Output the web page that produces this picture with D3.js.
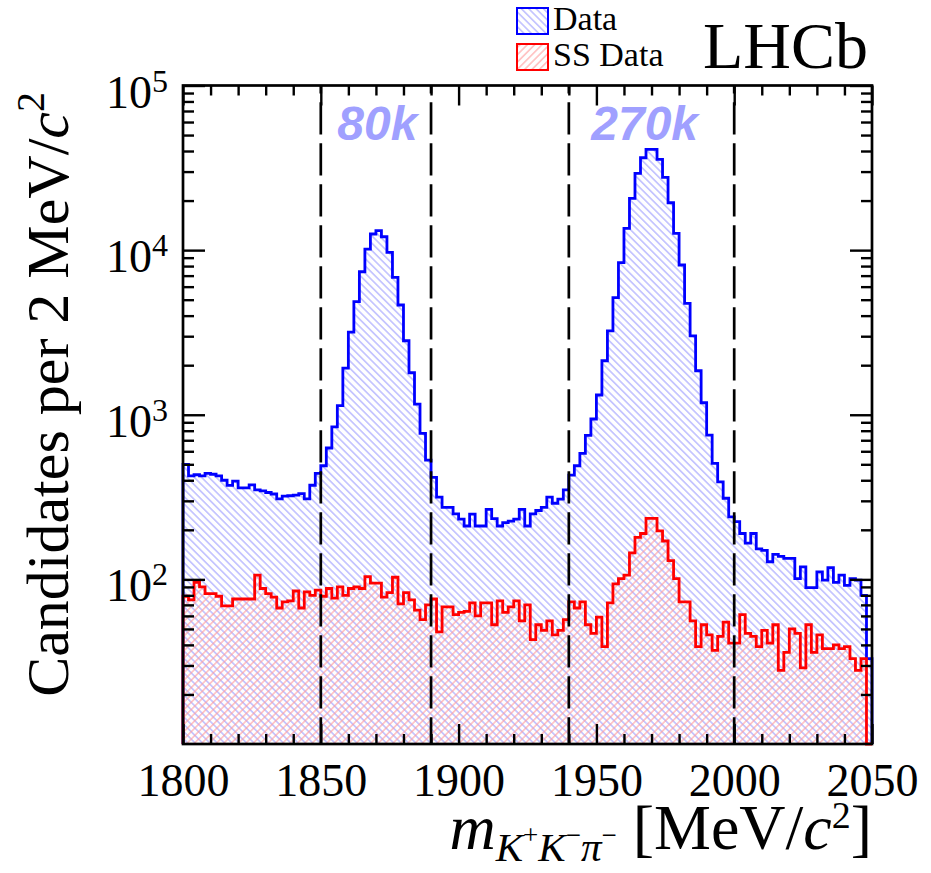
<!DOCTYPE html>
<html>
<head>
<meta charset="utf-8">
<script src="https://cdn.jsdelivr.net/npm/d3@7"></script>
<style>
  body { margin: 0; background: #fff; }
  svg { display: block; }
</style>
</head>
<body>
<div id="chart"></div>
<script>
// binning of the mass histogram, 2 MeV per bin from 1800
const binStart = 1800
const binWidth = 2

// Data (opposite sign), candidates per bin
const dataCounts = [
  500, 425, 432, 425, 440, 435, 425, 400, 372, 395,
  360, 360, 375, 350, 345, 337, 330, 308, 320, 322,
  325, 332, 308, 373, 440, 490, 628, 845, 1135, 1921,
  3180, 4860, 7390, 10150, 12530, 13120, 12060, 9700, 6840, 4640,
  2816, 1800, 1160, 771, 530, 417, 316, 274, 274, 250,
  232, 211, 249, 211, 211, 266, 234, 211, 221, 226,
  232, 266, 211, 250, 262, 274, 316, 290, 307, 350,
  430, 490, 582, 750, 942, 1318, 2128, 3236, 5140, 8400,
  13560, 20650, 29260, 36400, 40950, 40950, 35600, 27700, 19400, 12650,
  8120, 4750, 3010, 1850, 1183, 753, 507, 391, 311, 240,
  224, 190, 166, 190, 153, 150, 128, 142, 138, 134,
  134, 101, 119, 89, 89, 111, 99, 118, 96, 106,
  92, 101, 99, 80, 33
]

// same-sign data, candidates per bin
const ssCounts = [
  79, 75, 96, 90, 82, 82, 79, 69, 69, 76,
  76, 76, 76, 106, 88, 82, 78, 67, 73, 74,
  85, 67, 84, 80, 86, 79, 88, 77, 90, 80,
  88, 90, 88, 104, 95, 95, 78, 83, 103, 71,
  83, 75, 65, 57, 70, 76, 48, 68, 68, 61,
  63, 64, 72, 60, 72, 72, 53, 74, 63, 68,
  74, 56, 70, 43, 53, 49, 56, 46, 49, 57,
  73, 67, 73, 53, 47, 59, 39, 72, 94, 101,
  106, 145, 180, 190, 235, 235, 197, 171, 130, 101,
  73, 73, 56, 39, 53, 46, 37, 45, 55, 41,
  41, 61, 47, 45, 39, 49, 41, 53, 28, 36,
  50, 47, 29, 53, 36, 46, 38, 38, 40, 38,
  39, 33, 28, 33, 5
]

// signal window boundaries (dashed lines)
const cutLines = [1850, 1890, 1940, 2000]
// yields written over the two peaks
const yieldLabels = ["80k", "270k"]
const yieldLabelX = [1870.5, 1967.5]

const xMajorTicks = [1800, 1850, 1900, 1950, 2000, 2050]
const yMajorTicks = [1e2, 1e3, 1e4, 1e5]
const yExponents = ["2", "3", "4", "5"]

const legendLabels = ["Data", "SS Data"]

const W = 931, H = 873
const pLeft = 183, pRight = 872, pTop = 85.5, pBottom = 744

const svg = d3.select("#chart").append("svg")
  .attr("width", W).attr("height", H)

const x = d3.scaleLinear().domain([1800, 2050]).range([pLeft, pRight])
const y = d3.scaleLog().domain([10, 1e5]).range([pBottom, pTop]).clamp(true)

// hatch patterns like ROOT fill styles 3004/3005
const defs = svg.append("defs")
function hatch(id, angle, color) {
  const p = defs.append("pattern")
    .attr("id", id)
    .attr("patternUnits", "userSpaceOnUse")
    .attr("width", 5.2).attr("height", 10)
    .attr("patternTransform", "rotate(" + angle + ")")
  p.append("line")
    .attr("x1", 2.6).attr("y1", -1).attr("x2", 2.6).attr("y2", 11)
    .attr("stroke", color).attr("stroke-width", 1)
}
hatch("hatchBlue", -45, "#9a9aff")
hatch("hatchRed", 45, "#ff9a9a")

// histogram points: one per bin low edge, plus the last upper edge
function histPoints(counts) {
  const pts = counts.map((c, i) => [binStart + i * binWidth, c])
  pts.push([binStart + counts.length * binWidth, counts[counts.length - 1]])
  return pts
}

const area = d3.area()
  .curve(d3.curveStepAfter)
  .x(d => x(d[0]))
  .y0(pBottom)
  .y1(d => y(d[1]))

const outline = d3.line()
  .curve(d3.curveStepAfter)
  .x(d => x(d[0]))
  .y(d => y(d[1]))

function drawHist(counts, fill, color) {
  const pts = histPoints(counts)
  svg.append("path")
    .attr("d", area(pts))
    .attr("fill", fill)
  const withEnds = [[binStart, 1]].concat(pts, [[pts[pts.length - 1][0], 1]])
  svg.append("path")
    .attr("d", outline(withEnds))
    .attr("fill", "none")
    .attr("stroke", color)
    .attr("stroke-width", 2.8)
    .attr("stroke-linejoin", "miter")
}

drawHist(dataCounts, "url(#hatchBlue)", "#0000ff")
drawHist(ssCounts, "url(#hatchRed)", "#ff0000")

// dashed window lines
svg.selectAll(".cut")
  .data(cutLines)
  .join("line")
  .attr("class", "cut")
  .attr("x1", d => x(d)).attr("x2", d => x(d))
  .attr("y1", pTop).attr("y2", pBottom)
  .attr("stroke", "#000")
  .attr("stroke-width", 2.7)
  .attr("stroke-dasharray", "32.3 8.7")
  .attr("stroke-dashoffset", 24.3)

// yields
svg.selectAll(".yield")
  .data(yieldLabels)
  .join("text")
  .attr("class", "yield")
  .attr("x", (d, i) => x(yieldLabelX[i]))
  .attr("y", 140)
  .attr("text-anchor", "middle")
  .attr("font-family", "Liberation Sans, Arial, sans-serif")
  .attr("font-weight", "bold")
  .attr("font-style", "italic")
  .attr("font-size", 48)
  .attr("fill", "#a0a0ff")
  .text(d => d)

// ---- axes and ticks ----
const xMinor = d3.range(1800, 2051, 10).filter(v => v % 50 !== 0)
const yMinor = []
for (let e = 1; e < 5; e++) {
  for (let m = 2; m <= 9; m++) yMinor.push(m * Math.pow(10, e))
}

function tickStyle(g) {
  g.select(".domain").remove()
  g.selectAll(".tick line").attr("stroke", "#000").attr("stroke-width", 2.4)
}

// bottom
svg.append("g")
  .attr("transform", "translate(0," + pBottom + ")")
  .call(d3.axisBottom(x).tickValues(xMajorTicks).tickSize(-20).tickPadding(19)
    .tickFormat(d3.format("d")))
  .call(tickStyle)
  .call(g => g.selectAll("text")
    .attr("font-family", "Liberation Serif, Times New Roman, serif")
    .attr("font-size", 46).attr("fill", "#000"))
svg.append("g")
  .attr("transform", "translate(0," + pBottom + ")")
  .call(d3.axisBottom(x).tickValues(xMinor).tickSize(-10).tickFormat(""))
  .call(tickStyle)
// top
svg.append("g")
  .attr("transform", "translate(0," + pTop + ")")
  .call(d3.axisTop(x).tickValues(xMajorTicks).tickSize(-20).tickFormat(""))
  .call(tickStyle)
svg.append("g")
  .attr("transform", "translate(0," + pTop + ")")
  .call(d3.axisTop(x).tickValues(xMinor).tickSize(-10).tickFormat(""))
  .call(tickStyle)
// left
svg.append("g")
  .attr("transform", "translate(" + pLeft + ",0)")
  .call(d3.axisLeft(y).tickValues(yMajorTicks).tickSize(-22).tickFormat(""))
  .call(tickStyle)
svg.append("g")
  .attr("transform", "translate(" + pLeft + ",0)")
  .call(d3.axisLeft(y).tickValues(yMinor).tickSize(-11).tickFormat(""))
  .call(tickStyle)
// right
svg.append("g")
  .attr("transform", "translate(" + pRight + ",0)")
  .call(d3.axisRight(y).tickValues(yMajorTicks).tickSize(-22).tickFormat(""))
  .call(tickStyle)
svg.append("g")
  .attr("transform", "translate(" + pRight + ",0)")
  .call(d3.axisRight(y).tickValues(yMinor).tickSize(-11).tickFormat(""))
  .call(tickStyle)

// y tick labels 10^n
const yLab = svg.selectAll(".ylab")
  .data(yMajorTicks)
  .join("text")
  .attr("class", "ylab")
  .attr("x", 168)
  .attr("y", d => y(d) + 22)
  .attr("text-anchor", "end")
  .attr("font-family", "Liberation Serif, Times New Roman, serif")
  .attr("fill", "#000")
yLab.append("tspan").attr("font-size", 46).text("10")
yLab.append("tspan").attr("font-size", 32).attr("dy", -16)
  .text((d, i) => yExponents[i])

// frame
svg.append("rect")
  .attr("x", pLeft).attr("y", pTop)
  .attr("width", pRight - pLeft).attr("height", pBottom - pTop)
  .attr("fill", "none").attr("stroke", "#000").attr("stroke-width", 2.7)

// axis titles
const serif = "Liberation Serif, Times New Roman, serif"
const yTitle = svg.append("text")
  .attr("transform", "translate(68," + 92 + ") rotate(-90)")
  .attr("text-anchor", "end")
  .attr("font-family", serif)
  .attr("font-size", 60)
  .attr("fill", "#000")
yTitle.append("tspan").text("Candidates per 2 MeV/")
yTitle.append("tspan").attr("font-style", "italic").text("c")
yTitle.append("tspan").attr("font-size", 40).attr("dy", -24).text("2")

const xTitle = svg.append("text")
  .attr("x", pRight).attr("y", 849)
  .attr("text-anchor", "end")
  .attr("font-family", serif)
  .attr("font-size", 64)
  .attr("fill", "#000")
xTitle.append("tspan").attr("font-style", "italic").text("m")
xTitle.append("tspan").attr("font-style", "italic").attr("font-size", 41).attr("dy", 12).text("K")
xTitle.append("tspan").attr("font-size", 27).attr("dy", -17).text("+")
xTitle.append("tspan").attr("font-style", "italic").attr("font-size", 41).attr("dy", 17).text("K")
xTitle.append("tspan").attr("font-size", 27).attr("dy", -17).text("\u2212")
xTitle.append("tspan").attr("font-style", "italic").attr("font-size", 41).attr("dy", 17).text("\u03c0")
xTitle.append("tspan").attr("font-size", 27).attr("dy", -17).text("\u2212")
xTitle.append("tspan").attr("dy", 5).text(" [MeV/")
xTitle.append("tspan").attr("font-style", "italic").text("c")
xTitle.append("tspan").attr("font-size", 38).attr("dy", -21).text("2")
xTitle.append("tspan").attr("dy", 21).text("]")

// legend
const legendFill = ["url(#hatchBlue)", "url(#hatchRed)"]
const legendColor = ["#0000ff", "#ff0000"]
const leg = svg.selectAll(".leg")
  .data(legendLabels)
  .join("g")
  .attr("class", "leg")
  .attr("transform", (d, i) => "translate(517," + (8 + i * 36) + ")")
leg.append("rect")
  .attr("width", 31).attr("height", 26)
  .attr("fill", (d, i) => legendFill[i])
  .attr("stroke", (d, i) => legendColor[i])
  .attr("stroke-width", 2)
leg.append("text")
  .attr("x", 36).attr("y", 22)
  .attr("font-family", serif)
  .attr("font-size", 34)
  .attr("fill", "#000")
  .text(d => d)

svg.append("text")
  .attr("x", 703).attr("y", 68)
  .attr("font-family", serif)
  .attr("font-size", 66)
  .attr("fill", "#000")
  .text("LHCb")
</script>
</body>
</html>
